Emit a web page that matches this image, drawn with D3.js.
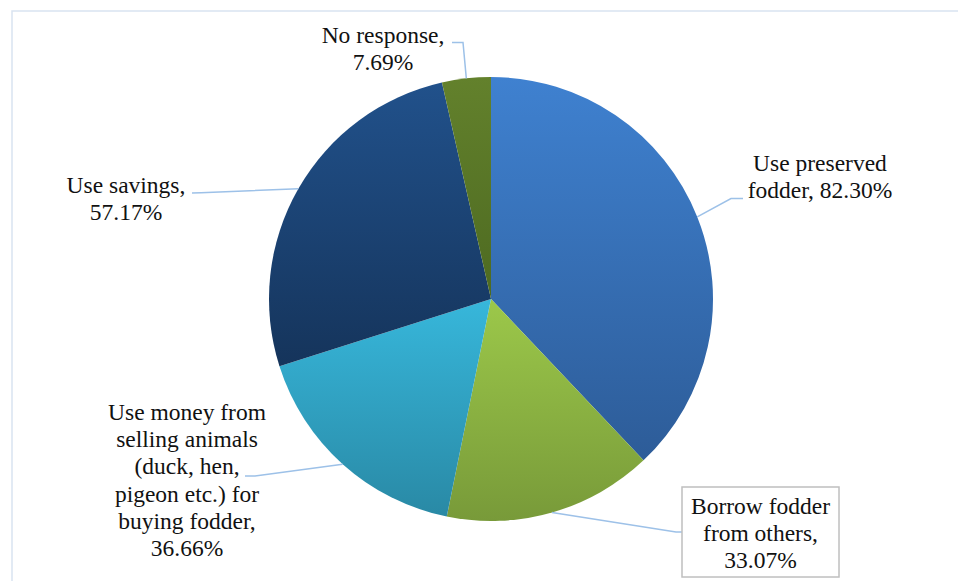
<!DOCTYPE html>
<html>
<head>
<meta charset="utf-8">
<script src="https://cdn.jsdelivr.net/npm/d3@7"></script>
<style>
  html, body { margin: 0; padding: 0; background: #ffffff; }
  svg { display: block; }
  svg text { font-family: "Liberation Serif", serif; font-size: 23.5px; fill: #111111; }
</style>
</head>
<body>
<svg id="chart" width="958" height="581"></svg>
<script>
// ---- Data ----
const categories = [
  "Use preserved fodder",
  "Borrow fodder from others",
  "Use money from selling animals (duck, hen, pigeon etc.) for buying fodder",
  "Use savings",
  "No response"
];
const values = [82.30, 33.07, 36.66, 57.17, 7.69];
// label lines; "{v}" is replaced by the formatted value
const labelLines = [
  ["Use preserved", "fodder, {v}"],
  ["Borrow fodder", "from others,", "{v}"],
  ["Use money from", "selling animals", "(duck, hen,", "pigeon etc.) for", "buying fodder,", "{v}"],
  ["Use savings,", "{v}"],
  ["No response,", "{v}"]
];
const colorsTop = ["#3f81d0", "#9cc84a", "#37b7db", "#21518b", "#63812c"];
const colorsBottom = ["#2d5c98", "#789a39", "#2989a5", "#15345b", "#4d6a21"];

// ---- Layout ----
const W = 958, H = 581;
const cx = 491, cy = 299, R = 222;
const lineH = 27.2;
// label placement: text centre x, first baseline y, and leader elbow points
const labelLayout = [
  { x: 820, y: 171, elbow: [[731, 198.5], [743, 198.5]] },
  { x: 760.5, y: 514, elbow: [[676, 532], [682, 532]], box: { x0: 682, y0: 487, x1: 839, y1: 577 } },
  { x: 187, y: 420, elbow: [[255, 476], [245, 476]] },
  { x: 126, y: 193, elbow: [[201, 192.7], [192, 193]] },
  { x: 383, y: 43, elbow: [[463, 42.5], [452, 42.5]] }
];

const svg = d3.select("#chart");

// chart area border (extends past right/bottom of the image)
svg.append("rect")
  .attr("x", 12).attr("y", 11)
  .attr("width", W + 20).attr("height", H + 20)
  .attr("fill", "#ffffff")
  .attr("stroke", "#d9e3f1")
  .attr("stroke-width", 1.5);

const defs = svg.append("defs");
values.forEach((v, i) => {
  const g = defs.append("linearGradient")
    .attr("id", "grad" + i)
    .attr("x1", 0).attr("y1", 0).attr("x2", 0).attr("y2", 1);
  g.append("stop").attr("offset", "0%").attr("stop-color", colorsTop[i]);
  g.append("stop").attr("offset", "100%").attr("stop-color", colorsBottom[i]);
});

const pie = d3.pie().sort(null).value(d => d);
const arcs = pie(values);
const arc = d3.arc().innerRadius(0).outerRadius(R);
const edgeArc = d3.arc().innerRadius(R).outerRadius(R);

const gPie = svg.append("g").attr("transform", `translate(${cx},${cy})`);
gPie.selectAll("path.slice")
  .data(arcs)
  .join("path")
  .attr("class", "slice")
  .attr("d", arc)
  .attr("fill", (d, i) => `url(#grad${i})`)
  .attr("stroke", "none");

const fmt = v => v.toFixed(2) + "%";

// leader lines
const line = d3.line();
arcs.forEach((a, i) => {
  const c = edgeArc.centroid(a);
  const start = [c[0] + cx, c[1] + cy];
  const pts = [start].concat(labelLayout[i].elbow);
  svg.append("path")
    .attr("d", line(pts))
    .attr("fill", "none")
    .attr("stroke", "#9dc1e8")
    .attr("stroke-width", 1.5);
});

// labels
labelLines.forEach((lines, i) => {
  const L = labelLayout[i];
  if (L.box) {
    svg.append("rect")
      .attr("x", L.box.x0).attr("y", L.box.y0)
      .attr("width", L.box.x1 - L.box.x0).attr("height", L.box.y1 - L.box.y0)
      .attr("fill", "#ffffff")
      .attr("stroke", "#bfbfbf")
      .attr("stroke-width", 1.5);
  }
  const t = svg.append("text")
    .attr("text-anchor", "middle")
    .attr("class", "label");
  lines.forEach((s, k) => {
    t.append("tspan")
      .attr("x", L.x)
      .attr("y", L.y + k * lineH)
      .text(s.replace("{v}", fmt(values[i])));
  });
});
</script>
</body>
</html>
